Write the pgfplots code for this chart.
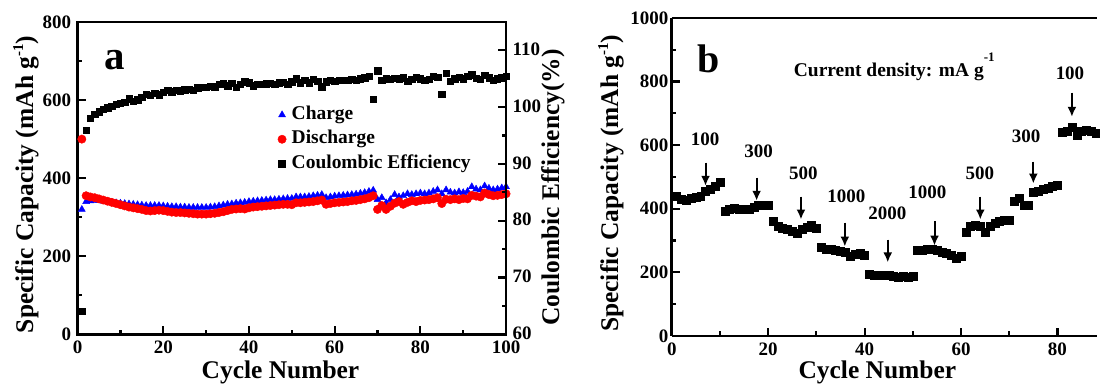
\documentclass[border=0pt]{standalone}
\usepackage{fontspec}
\setmainfont{Liberation Serif}
\usepackage{pgfplots}
\pgfplotsset{compat=1.18}
\usepackage{pgfplotstable}
\usetikzlibrary{arrows.meta}
\newcommand\fs[1]{\fontsize{#1}{#1}\selectfont\bfseries}

\pgfplotstableread{
c ch dis ce
1 320 500 64.1
2 340 355 95.9
3 342 352 98.1
4 343 350 98.8
5 343 347 99.2
6 341 344 99.6
7 340 341 99.9
8 338 338 100.2
9 337 335 100.5
10 336 332 100.7
11 335 329 100.9
12 334 326 101.5
13 333 324 101.0
14 332 322 101.3
15 331 320 101.8
16 330 317 102.3
17 330 316 102.1
18 330 317 102.5
19 330 318 102.2
20 329 317 102.6
21 328 315 103.0
22 327 313 102.7
23 327 312 103.0
24 326 312 102.9
25 326 311 103.1
26 325 310 103.2
27 325 309 103.0
28 325 308 103.4
29 325 308 103.5
30 325 308 103.5
31 326 309 103.7
32 327 310 103.6
33 329 312 104.0
34 331 314 104.1
35 333 317 103.8
36 334 320 104.2
37 336 321 103.5
38 337 322 104.0
39 338 321 104.5
40 340 324 104.3
41 341 326 103.8
42 342 327 104.0
43 343 328 104.0
44 344 329 104.1
45 345 330 104.2
46 345 331 104.0
47 346 332 104.3
48 347 333 104.4
49 348 333 104.0
50 348 332 104.5
51 352 337 105.0
52 352 337 104.3
53 352 338 104.8
54 353 339 104.3
55 355 340 104.9
56 356 342 104.6
57 358 344 103.6
58 350 333 104.5
59 352 335 104.8
60 354 337 104.6
61 355 338 104.8
62 356 339 104.7
63 357 340 104.8
64 358 342 104.9
65 359 343 104.8
66 361 345 105.0
67 363 347 105.2
68 366 350 105.5
69 369 355 101.4
70 345 320 106.4
71 350 330 104.8
72 337 320 105.0
73 345 328 104.9
74 358 336 105.1
75 352 340 105.0
76 355 333 105.2
77 360 338 104.6
78 358 342 104.9
79 360 340 105.3
80 362 343 105.0
81 360 344 104.7
82 362 345 104.9
83 366 347 105.4
84 370 350 105.3
85 360 335 102.3
86 370 346 106.0
87 364 345 104.6
88 362 347 105.0
89 365 345 105.3
90 363 348 105.0
91 366 347 105.5
92 378 356 105.7
93 372 354 105.1
94 370 352 104.9
95 380 362 105.6
96 374 358 105.2
97 370 355 104.8
98 372 356 105.0
99 375 358 105.2
100 378 360 105.4
}\dataA

\pgfplotstableread{
c v
1 440
2 430
3 428
4 432
5 437
6 440
7 455
8 462
9 470
10 483
11 393
12 398
13 403
14 400
15 398
16 400
17 405
18 410
19 410
20 410
21 362
22 345
23 340
24 335
25 330
26 322
27 335
28 343
29 348
30 340
31 278
32 273
33 272
34 270
35 267
36 262
37 252
38 258
39 259
40 254
41 193
42 192
43 192
44 191
45 190
46 188
47 185
48 187
49 186
50 187
51 268
52 270
53 272
54 273
55 270
56 262
57 260
58 255
59 243
60 250
61 325
62 345
63 348
64 345
65 325
66 345
67 355
68 360
69 363
70 365
71 425
72 432
73 412
74 410
75 452
76 455
77 460
78 465
79 470
80 473
81 640
82 645
83 655
84 630
85 645
86 648
87 643
88 638
}\dataB

\begin{document}
\begin{tikzpicture}
\pgfplotsset{
  myaxis/.style={
    scale only axis,
    anchor=south west,
    axis line style={line width=2.6pt},
    tick style={line width=2.2pt, black},
    tick align=inside,
    major tick length=8pt,
    minor tick length=4.5pt,
    /pgf/number format/assume math mode=true,
    /pgf/number format/1000 sep={},
    tick label style={font=\fs{19}},
    label style={font=\fs{25.5}},
  }
}
% Panel a
\begin{axis}[myaxis, at={(77.7pt,55pt)}, width=429.3pt, height=313pt,
  xmin=0, xmax=100, ymin=0, ymax=800,
  xtick={0,20,...,100}, minor x tick num=1,
  ytick={0,200,...,800}, minor y tick num=1,
  xtick pos=left, ytick pos=left,
  yticklabel style={xshift=-3pt},
  xticklabel style={yshift=-3pt},
  xlabel={Cycle Number},
  ylabel={Specific Capacity (mAh g\raisebox{10pt}{\fontsize{15}{15}\selectfont\bfseries -1})},
  xlabel style={at={(axis description cs:0.4736,-0.1214)}, anchor=center},
  ylabel style={at={(axis description cs:-0.1204,0.48)}, anchor=center},
  legend cell align=left,
  legend style={at={(0.46,0.745)}, anchor=north west, draw=none, fill=none,
    font=\fs{19.5}, row sep=2.5pt,
    nodes={inner sep=1.5pt, text height=14pt, text depth=5pt},
    /tikz/every odd column/.append style={column sep=4pt}},
]
\addplot[only marks, mark=triangle*, mark size=4pt, color=blue, line width=0.4pt] table[x=c, y=ch] {\dataA};
\addlegendentry{Charge}
\addplot[only marks, mark=*, mark size=4.2pt, color=red, line width=0.4pt] table[x=c, y=dis] {\dataA};
\addlegendentry{Discharge}
\addlegendimage{only marks, mark=square*, mark size=3.4pt, black}
\addlegendentry{Coulombic Efficiency}
\node[anchor=base west, font=\fs{41}] at (rel axis cs:0.054,0.847) {a};
\end{axis}
\begin{axis}[myaxis, at={(77.7pt,55pt)}, width=429.3pt, height=313pt,
  xmin=0, xmax=100, ymin=60, ymax=115,
  axis y line*=right, axis x line=none,
  ytick={60,70,...,110}, minor y tick num=1,
  yticklabel style={xshift=3pt, yshift=1pt},
  ylabel={Coulombic Efficiency(\%)},
  ylabel style={at={(axis description cs:1.1095,0.47)}, anchor=center, rotate=0},
]
\addplot[only marks, mark=square*, mark size=3.2pt, color=black, line width=0.4pt] table[x=c, y=ce] {\dataA};
\end{axis}
% Panel b
\begin{axis}[myaxis, at={(673pt,53.5pt)}, width=426pt, height=318.5pt,
  xmin=0, xmax=88.2, ymin=0, ymax=1000,
  axis x line*=bottom, axis y line*=left,
  axis line style={-},
  clip mode=individual,
  xtick={0,20,...,80}, minor x tick num=1,
  ytick={0,200,...,1000}, minor y tick num=1,
  xticklabel style={yshift=-3pt},
  xlabel={Cycle Number},
  ylabel={Specific Capacity (mAh g\raisebox{10pt}{\fontsize{15}{15}\selectfont\bfseries -1})},
  xlabel style={at={(axis description cs:0.4836,-0.1146)}, anchor=center},
  ylabel style={at={(axis description cs:-0.1432,0.48)}, anchor=center},
]
\addplot[only marks, mark=square*, mark size=4pt, color=black, line width=0.4pt] table[x=c, y=v] {\dataB};
\draw[line width=2.6pt] (rel axis cs:0,1) -- (rel axis cs:1,1);
\node[anchor=base west, font=\fs{40}] at (rel axis cs:0.0516,0.83) {b};
\node[anchor=base west, font=\fs{19.5}] at (axis cs:24.6,815) {Current density: mA g\raisebox{15pt}{\fontsize{13}{13}\selectfont\bfseries -1}};
\tikzset{myarr/.style={line width=2pt, -{Latex[length=10pt,width=9pt]}}}
\draw[myarr] (axis cs:7,545) -- (axis cs:7,472);
\draw[myarr] (axis cs:17.6,498) -- (axis cs:17.6,425);
\draw[myarr] (axis cs:26.8,438) -- (axis cs:26.8,366);
\draw[myarr] (axis cs:35.9,356) -- (axis cs:35.9,281);
\draw[myarr] (axis cs:44.8,303) -- (axis cs:44.8,231);
\draw[myarr] (axis cs:54.5,360) -- (axis cs:54.5,284);
\draw[myarr] (axis cs:64,438) -- (axis cs:64,366);
\draw[myarr] (axis cs:75,548) -- (axis cs:75,479);
\draw[myarr] (axis cs:83,765) -- (axis cs:83,689);
\node[font=\fs{19}] at (axis cs:6.9,617) {100};
\node[font=\fs{19}] at (axis cs:18.0,582) {300};
\node[font=\fs{19}] at (axis cs:27.3,513) {500};
\node[font=\fs{19}] at (axis cs:36.2,438) {1000};
\node[font=\fs{19}] at (axis cs:44.7,385) {2000};
\node[font=\fs{19}] at (axis cs:53.0,451) {1000};
\node[font=\fs{19}] at (axis cs:63.9,513) {500};
\node[font=\fs{19}] at (axis cs:73.5,629) {300};
\node[font=\fs{19}] at (axis cs:82.6,827) {100};
\end{axis}
\path (0pt,0pt) rectangle (1100pt,390pt);
\end{tikzpicture}
\end{document}
